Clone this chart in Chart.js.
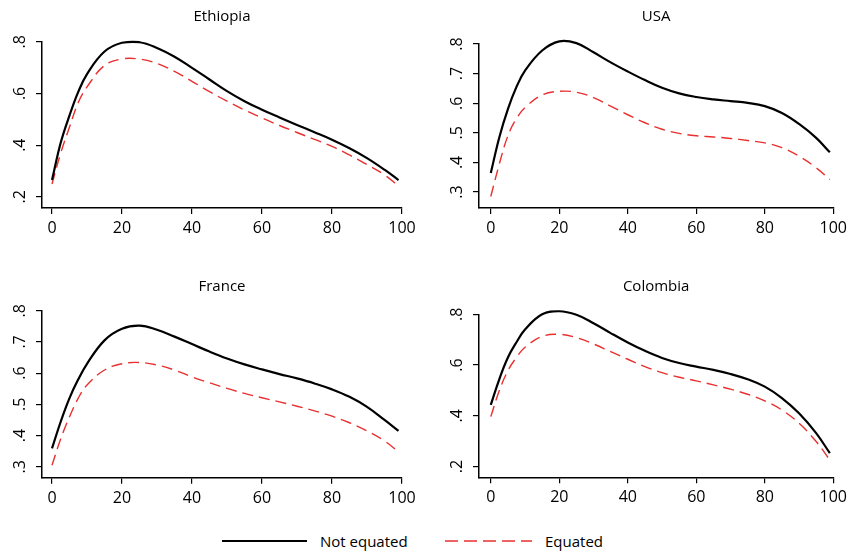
<!DOCTYPE html>
<html>
<head>
<meta charset="utf-8">
<script src="https://cdn.jsdelivr.net/npm/chart.js@4"></script>
<style>
  body { margin: 0; background: #fff; width: 852px; height: 555px; position: relative; overflow: hidden; font-family: "Open Sans", sans-serif; }
  .panel { position: absolute; }
  #legend { position: absolute; top: 530px; left: 0; width: 852px; height: 22px; font-size: 15px; color: #000; }
  #legend span { position: absolute; top: 0; line-height: 22px; }
  #legend svg { position: absolute; top: 0; }
</style>
</head>
<body>
<div class="panel" style="left:0;top:0;width:426px;height:248px"><canvas id="c0"></canvas></div>
<div class="panel" style="left:426px;top:0;width:426px;height:248px"><canvas id="c1"></canvas></div>
<div class="panel" style="left:0;top:270px;width:426px;height:248px"><canvas id="c2"></canvas></div>
<div class="panel" style="left:426px;top:270px;width:426px;height:248px"><canvas id="c3"></canvas></div>
<div id="legend">
  <svg style="left:222px" width="86" height="22"><line x1="0" y1="11" x2="85" y2="11" stroke="#000" stroke-width="2"/></svg>
  <span style="left:320px">Not equated</span>
  <svg style="left:445px" width="88" height="22"><line x1="0" y1="11" x2="87" y2="11" stroke="#e8302f" stroke-width="1.4" stroke-dasharray="13 6"/></svg>
  <span style="left:545px">Equated</span>
</div>
<script>
const countries = ["Ethiopia", "USA", "France", "Colombia"];
const xs = [0, 2.5, 5, 7.5, 10, 15, 20, 25, 30, 35, 40, 45, 50, 55, 60, 65, 70, 75, 80, 85, 90, 95, 99];

const notEquated = [
  [0.265, 0.410, 0.515, 0.606, 0.675, 0.762, 0.796, 0.798, 0.776, 0.742, 0.699, 0.654, 0.609, 0.570, 0.537, 0.507, 0.478, 0.450, 0.421, 0.388, 0.350, 0.305, 0.265],
  [0.364, 0.485, 0.580, 0.655, 0.710, 0.778, 0.809, 0.803, 0.772, 0.738, 0.707, 0.678, 0.652, 0.633, 0.621, 0.613, 0.607, 0.601, 0.590, 0.567, 0.530, 0.483, 0.434],
  [0.359, 0.445, 0.520, 0.580, 0.630, 0.705, 0.742, 0.752, 0.739, 0.717, 0.693, 0.669, 0.647, 0.628, 0.612, 0.597, 0.583, 0.567, 0.548, 0.524, 0.492, 0.450, 0.415],
  [0.443, 0.545, 0.630, 0.690, 0.740, 0.800, 0.812, 0.798, 0.765, 0.726, 0.689, 0.656, 0.628, 0.608, 0.594, 0.581, 0.565, 0.544, 0.515, 0.470, 0.410, 0.332, 0.253]
];

const equated = [
  [0.250, 0.370, 0.470, 0.565, 0.625, 0.708, 0.733, 0.733, 0.716, 0.685, 0.647, 0.607, 0.570, 0.536, 0.505, 0.476, 0.449, 0.422, 0.395, 0.362, 0.325, 0.285, 0.242],
  [0.285, 0.395, 0.490, 0.548, 0.585, 0.628, 0.640, 0.637, 0.619, 0.590, 0.561, 0.534, 0.512, 0.498, 0.490, 0.486, 0.481, 0.474, 0.466, 0.450, 0.421, 0.382, 0.342],
  [0.305, 0.390, 0.460, 0.520, 0.562, 0.610, 0.630, 0.634, 0.626, 0.610, 0.588, 0.569, 0.551, 0.535, 0.521, 0.508, 0.494, 0.479, 0.462, 0.441, 0.415, 0.383, 0.348],
  [0.397, 0.500, 0.578, 0.630, 0.670, 0.713, 0.721, 0.708, 0.683, 0.653, 0.623, 0.594, 0.570, 0.552, 0.538, 0.522, 0.505, 0.485, 0.459, 0.423, 0.371, 0.299, 0.226]
];

const xTicks = [0, 20, 40, 60, 80, 100];
const yTicks = [
  [0.2, 0.4, 0.6, 0.8],
  [0.3, 0.4, 0.5, 0.6, 0.7, 0.8],
  [0.3, 0.4, 0.5, 0.6, 0.7, 0.8],
  [0.2, 0.4, 0.6, 0.8]
];

// plot region setup, per panel
const xMin = [-2.86, -3.44, -2.86, -3.44];
const yMin = [0.157, 0.246, 0.265, 0.158];
const yAxisWidth = [42, 53, 42, 53];
const padRight = [24, 12, 24, 12];
const titleGap = [15.7, 18, 14.7, 18.3];
const xAxisHeight = [40, 40, 40.3, 40.7];

const FONT = "'Open Sans', sans-serif";

// y tick labels are rotated, chart.js won't do that on a vertical axis
const rotatedYLabels = {
  id: "rotatedYLabels",
  afterDraw(chart) {
    const ctx = chart.ctx;
    const y = chart.scales.y;
    ctx.save();
    ctx.fillStyle = "#000";
    ctx.font = "16px " + FONT;
    ctx.textAlign = "center";
    ctx.textBaseline = "middle";
    y.ticks.forEach((t) => {
      ctx.save();
      ctx.translate(y.right - 22, y.getPixelForValue(t.value));
      ctx.rotate(-Math.PI / 2);
      ctx.fillText(String(t.value).replace(/^0/, ""), 0, 0);
      ctx.restore();
    });
    ctx.restore();
  }
};

function makeChart(i) {
  const ctx = document.getElementById("c" + i).getContext("2d");
  new Chart(ctx, {
    type: "line",
    data: {
      datasets: [
        {
          label: "Not equated",
          data: xs.map((x, j) => ({ x: x, y: notEquated[i][j] })),
          borderColor: "#000",
          borderWidth: 2.2,
          pointRadius: 0,
          tension: 0.4,
          clip: false
        },
        {
          label: "Equated",
          data: xs.map((x, j) => ({ x: x, y: equated[i][j] })),
          borderColor: "#e8302f",
          borderWidth: 1.4,
          borderDash: [11, 6],
          pointRadius: 0,
          tension: 0.4,
          clip: false
        }
      ]
    },
    options: {
      responsive: false,
      animation: false,
      events: [],
      layout: { padding: { left: 0, right: padRight[i], top: 0, bottom: 0 } },
      plugins: {
        legend: { display: false },
        tooltip: { enabled: false },
        title: {
          display: true,
          text: countries[i],
          fullSize: false,
          color: "#000",
          font: { family: FONT, size: 15, weight: "normal", lineHeight: 1.2 },
          padding: { top: 8, bottom: titleGap[i] }
        }
      },
      scales: {
        x: {
          type: "linear",
          min: xMin[i],
          max: 100,
          afterBuildTicks: (s) => { s.ticks = xTicks.map((v) => ({ value: v })); },
          afterFit: (s) => { s.height = xAxisHeight[i]; },
          grid: { drawOnChartArea: false, drawTicks: true, tickLength: 6, color: "#000", lineWidth: 1.2 },
          border: { display: true, color: "#000", width: 1.5 },
          ticks: { color: "#000", padding: 5, maxRotation: 0, font: { family: FONT, size: 16 } }
        },
        y: {
          type: "linear",
          min: yMin[i],
          max: 0.8,
          afterBuildTicks: (s) => { s.ticks = yTicks[i].map((v) => ({ value: v })); },
          afterFit: (s) => { s.width = yAxisWidth[i]; },
          grid: { drawOnChartArea: false, drawTicks: true, tickLength: 6, color: "#000", lineWidth: 1.2 },
          border: { display: true, color: "#000", width: 1.5 },
          ticks: { display: false }
        }
      }
    },
    plugins: [rotatedYLabels]
  });
}

document.querySelectorAll("canvas").forEach((c) => { c.width = 426; c.height = 248; });
for (let i = 0; i < 4; i++) makeChart(i);
</script>
</body>
</html>
